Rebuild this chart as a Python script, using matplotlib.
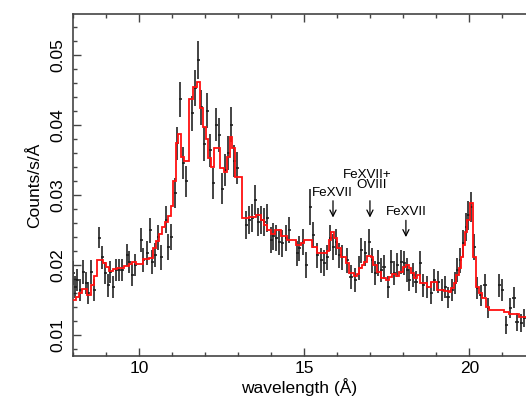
import matplotlib
matplotlib.use("Agg")
import matplotlib.pyplot as plt
from matplotlib.ticker import MultipleLocator

plt.rcParams['font.family'] = ['Liberation Sans', 'DejaVu Sans']

# Observed spectrum: wavelength (Å), rate (counts/s/Å), 1-sigma error
wavelength = [8.00, 8.06, 8.12, 8.21, 8.30, 8.39, 8.45, 8.55, 8.64, 8.79,
              8.88, 8.97, 9.06, 9.12, 9.21, 9.30, 9.39, 9.48, 9.64, 9.70,
              9.79, 9.88, 10.06, 10.12, 10.24, 10.33, 10.39, 10.48, 10.58, 10.67,
              10.82, 10.88, 10.97, 11.09, 11.15, 11.24, 11.33, 11.42, 11.61, 11.70,
              11.79, 11.88, 11.97, 12.06, 12.15, 12.24, 12.33, 12.42, 12.52, 12.61,
              12.70, 12.79, 12.88, 12.97, 13.24, 13.33, 13.42, 13.52, 13.61, 13.70,
              13.79, 13.88, 14.00, 14.06, 14.15, 14.24, 14.33, 14.45, 14.55, 14.79,
              14.85, 14.97, 15.06, 15.18, 15.27, 15.39, 15.52, 15.61, 15.70, 15.79,
              15.88, 15.97, 16.06, 16.15, 16.30, 16.42, 16.55, 16.67, 16.73, 16.85,
              16.97, 17.06, 17.15, 17.24, 17.33, 17.42, 17.55, 17.64, 17.73, 17.82,
              17.94, 18.03, 18.12, 18.18, 18.30, 18.39, 18.52, 18.61, 18.73, 18.85,
              18.94, 19.06, 19.18, 19.27, 19.36, 19.48, 19.58, 19.64, 19.73, 19.82,
              19.91, 19.97, 20.06, 20.15, 20.24, 20.36, 20.48, 20.58, 20.91, 21.00,
              21.12, 21.24, 21.36, 21.45, 21.58, 21.67]
rate = [0.0189, 0.0169, 0.0179, 0.0164, 0.0190, 0.0174, 0.0160, 0.0190, 0.0164, 0.0239,
        0.0211, 0.0189, 0.0171, 0.0190, 0.0169, 0.0193, 0.0193, 0.0193, 0.0214, 0.0204,
        0.0186, 0.0200, 0.0236, 0.0207, 0.0217, 0.0250, 0.0204, 0.0214, 0.0240, 0.0211,
        0.0265, 0.0226, 0.0240, 0.0303, 0.0374, 0.0437, 0.0346, 0.0320, 0.0417, 0.0453,
        0.0493, 0.0426, 0.0373, 0.0421, 0.0364, 0.0317, 0.0401, 0.0386, 0.0309, 0.0336,
        0.0360, 0.0401, 0.0349, 0.0339, 0.0257, 0.0264, 0.0267, 0.0293, 0.0261, 0.0264,
        0.0261, 0.0267, 0.0236, 0.0241, 0.0239, 0.0233, 0.0231, 0.0239, 0.0250, 0.0217,
        0.0224, 0.0233, 0.0200, 0.0283, 0.0243, 0.0214, 0.0207, 0.0203, 0.0211, 0.0239,
        0.0226, 0.0233, 0.0214, 0.0211, 0.0207, 0.0183, 0.0179, 0.0196, 0.0221, 0.0217,
        0.0233, 0.0207, 0.0189, 0.0203, 0.0193, 0.0197, 0.0169, 0.0204, 0.0189, 0.0200,
        0.0204, 0.0203, 0.0193, 0.0179, 0.0186, 0.0176, 0.0203, 0.0171, 0.0169, 0.0160,
        0.0179, 0.0176, 0.0164, 0.0169, 0.0154, 0.0164, 0.0174, 0.0193, 0.0207, 0.0231,
        0.0254, 0.0271, 0.0283, 0.0226, 0.0167, 0.0157, 0.0171, 0.0139, 0.0171, 0.0164,
        0.0114, 0.0139, 0.0153, 0.0119, 0.0117, 0.0124]
rate_err = [0.0017, 0.0016, 0.0016, 0.0016, 0.0017, 0.0016, 0.0016, 0.0017, 0.0016, 0.0015,
            0.0016, 0.0016, 0.0016, 0.0016, 0.0016, 0.0016, 0.0016, 0.0016, 0.0016, 0.0016,
            0.0016, 0.0016, 0.0017, 0.0017, 0.0017, 0.0018, 0.0017, 0.0017, 0.0018, 0.0018,
            0.0019, 0.0019, 0.0019, 0.0021, 0.0023, 0.0025, 0.0023, 0.0022, 0.0025, 0.0026,
            0.0027, 0.0025, 0.0024, 0.0025, 0.0024, 0.0022, 0.0024, 0.0024, 0.0022, 0.0023,
            0.0024, 0.0025, 0.0023, 0.0023, 0.0020, 0.0020, 0.0020, 0.0022, 0.0020, 0.0020,
            0.0020, 0.0020, 0.0019, 0.0019, 0.0019, 0.0019, 0.0019, 0.0019, 0.0019, 0.0018,
            0.0018, 0.0019, 0.0018, 0.0026, 0.0019, 0.0018, 0.0018, 0.0018, 0.0018, 0.0019,
            0.0019, 0.0019, 0.0018, 0.0018, 0.0018, 0.0017, 0.0017, 0.0017, 0.0018, 0.0018,
            0.0019, 0.0018, 0.0017, 0.0018, 0.0017, 0.0017, 0.0016, 0.0017, 0.0017, 0.0017,
            0.0017, 0.0017, 0.0017, 0.0016, 0.0017, 0.0016, 0.0017, 0.0016, 0.0016, 0.0016,
            0.0016, 0.0016, 0.0016, 0.0016, 0.0015, 0.0016, 0.0016, 0.0017, 0.0018, 0.0019,
            0.0020, 0.0021, 0.0021, 0.0019, 0.0016, 0.0015, 0.0016, 0.0014, 0.0016, 0.0016,
            0.0013, 0.0014, 0.0015, 0.0013, 0.0013, 0.0013]

# Folded model: bin edges (Å) and model rate in each bin
model_edges = [7.90, 8.09, 8.18, 8.27, 8.42, 8.55, 8.64, 8.73, 8.91, 9.00,
               9.09, 9.21, 9.33, 9.55, 9.70, 9.79, 9.91, 10.12, 10.30, 10.42,
               10.52, 10.61, 10.70, 10.79, 10.88, 10.97, 11.03, 11.12, 11.18, 11.27,
               11.36, 11.52, 11.64, 11.76, 11.85, 11.94, 12.03, 12.09, 12.18, 12.27,
               12.45, 12.58, 12.67, 12.76, 12.82, 12.91, 13.12, 13.33, 13.55, 13.70,
               13.79, 13.88, 14.00, 14.12, 14.30, 14.48, 14.76, 14.91, 15.00, 15.18,
               15.24, 15.39, 15.70, 15.76, 15.82, 15.91, 16.00, 16.12, 16.27, 16.36,
               16.52, 16.61, 16.67, 16.76, 16.82, 16.91, 17.03, 17.09, 17.21, 17.33,
               17.48, 17.58, 17.67, 17.79, 17.88, 18.00, 18.09, 18.18, 18.24, 18.33,
               18.42, 18.52, 18.64, 18.73, 18.85, 19.03, 19.24, 19.39, 19.45, 19.55,
               19.61, 19.70, 19.76, 19.82, 19.88, 19.94, 20.03, 20.12, 20.21, 20.30,
               20.39, 20.52, 20.61, 21.06, 21.21, 21.52, 21.90]
model_rate = [0.0150, 0.0154, 0.0160, 0.0166, 0.0157, 0.0171, 0.0184, 0.0207, 0.0203, 0.0197,
              0.0191, 0.0194, 0.0196, 0.0198, 0.0201, 0.0205, 0.0201, 0.0208, 0.0210, 0.0224,
              0.0234, 0.0245, 0.0254, 0.0262, 0.0270, 0.0285, 0.0320, 0.0375, 0.0387, 0.0354,
              0.0349, 0.0437, 0.0454, 0.0462, 0.0424, 0.0397, 0.0381, 0.0353, 0.0340, 0.0367,
              0.0339, 0.0333, 0.0354, 0.0383, 0.0367, 0.0326, 0.0267, 0.0269, 0.0271, 0.0264,
              0.0257, 0.0250, 0.0244, 0.0250, 0.0241, 0.0236, 0.0229, 0.0232, 0.0236, 0.0236,
              0.0226, 0.0217, 0.0220, 0.0236, 0.0247, 0.0239, 0.0224, 0.0211, 0.0203, 0.0189,
              0.0184, 0.0187, 0.0196, 0.0200, 0.0204, 0.0213, 0.0211, 0.0200, 0.0190, 0.0181,
              0.0179, 0.0183, 0.0187, 0.0185, 0.0190, 0.0197, 0.0200, 0.0196, 0.0189, 0.0181,
              0.0186, 0.0174, 0.0174, 0.0169, 0.0176, 0.0164, 0.0163, 0.0161, 0.0167, 0.0174,
              0.0186, 0.0196, 0.0211, 0.0229, 0.0247, 0.0264, 0.0289, 0.0211, 0.0169, 0.0160,
              0.0153, 0.0140, 0.0136, 0.0133, 0.0130, 0.0126]

# Line identification labels (text, x, y) and arrows (x, top, tip)
id_labels = [
    ("FeXVII", 15.84, 0.0303),
    ("FeXVII+", 16.90, 0.0329),
    ("OVIII", 17.03, 0.0314),
    ("FeXVII", 18.08, 0.0276),
]
id_arrows = [
    (15.87, 0.0292, 0.0268),
    (16.99, 0.0292, 0.0268),
    (18.08, 0.0264, 0.0240),
]

fig = plt.figure(figsize=(5.26, 4.0), dpi=100)
ax = fig.add_axes([0.1382, 0.1108, 0.8618, 0.854])

ax.errorbar(wavelength, rate, yerr=rate_err, xerr=0.05, fmt='none',
            ecolor='#1a1a1a', elinewidth=1.15, capsize=0, zorder=2)
ax.stairs(model_rate, model_edges, color='#ff1010', linewidth=1.3, zorder=3)

for label, tx, ty in id_labels:
    ax.text(tx, ty, label, ha='center', va='center', fontsize=9.6,
            color='black', zorder=4)
for x, a_top, a_tip in id_arrows:
    ax.annotate('', xy=(x, a_tip), xytext=(x, a_top),
                arrowprops=dict(arrowstyle='->', color='black', lw=0.9,
                                mutation_scale=11, shrinkA=0, shrinkB=0),
                zorder=4)

ax.set_xlim(7.98, 21.72)
ax.set_ylim(0.00704, 0.0559)

ax.xaxis.set_major_locator(MultipleLocator(5))
ax.xaxis.set_minor_locator(MultipleLocator(1))
ax.yaxis.set_major_locator(MultipleLocator(0.01))
ax.yaxis.set_minor_locator(MultipleLocator(0.002))
ax.tick_params(which='both', direction='in', top=True, right=False,
               color='#444444', width=1.0, labelsize=12.5)
ax.tick_params(which='major', length=6)
ax.tick_params(which='minor', length=3)
ax.set_yticks([0.01, 0.02, 0.03, 0.04, 0.05])
ax.set_yticklabels(['0.01', '0.02', '0.03', '0.04', '0.05'],
                   rotation=90, va='center')
ax.tick_params(axis='y', pad=5)

for side in ('left', 'top', 'bottom'):
    ax.spines[side].set_color('#444444')
    ax.spines[side].set_linewidth(1.2)
ax.spines['right'].set_visible(False)

ax.set_xlabel('wavelength (Å)', fontsize=12.5, labelpad=2)
ax.set_ylabel('Counts/s/Å', fontsize=12.5, labelpad=6)

fig.savefig('out.png', dpi=100)
